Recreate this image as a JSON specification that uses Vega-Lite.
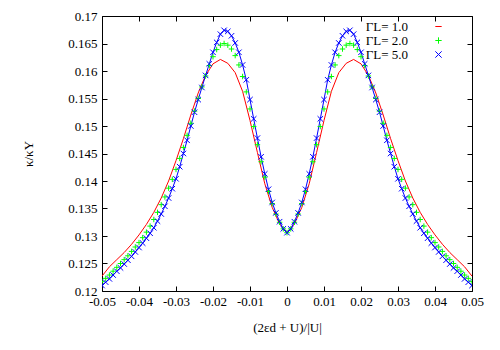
{
  "$schema": "https://vega.github.io/schema/vega-lite/v6.json",
  "width": 370,
  "height": 275,
  "autosize": {"type": "none"},
  "padding": {"left": 102, "top": 16, "right": 28, "bottom": 59},
  "background": "white",
  "config": {
    "view": {"stroke": "black", "strokeWidth": 1},
    "font": "Liberation Serif",
    "axis": {
      "grid": false,
      "domain": false,
      "tickColor": "black",
      "tickSize": -5,
      "tickWidth": 1,
      "labelFont": "Liberation Serif",
      "labelFontSize": 13,
      "labelColor": "black",
      "titleFont": "Liberation Serif",
      "titleFontSize": 13,
      "titleFontWeight": "normal",
      "titleColor": "black"
    },
    "legend": {
      "orient": "none",
      "legendX": 330,
      "legendY": 4,
      "padding": 0,
      "title": null,
      "labelFont": "Liberation Serif",
      "labelFontSize": 13,
      "labelColor": "black",
      "labelAlign": "right",
      "labelOffset": -37,
      "symbolSize": 40,
      "symbolStrokeWidth": 1,
      "rowPadding": -2
    }
  },
  "resolve": {"scale": {"x": "shared", "y": "shared"}, "axis": {"x": "independent", "y": "independent"}},
  "datasets": {
    "red": [
      {"x": -0.05, "y": 0.1227}, {"x": -0.048, "y": 0.1244}, {"x": -0.046, "y": 0.1257}, {"x": -0.044, "y": 0.127}, {"x": -0.042, "y": 0.1285}, {"x": -0.04, "y": 0.1302}, {"x": -0.038, "y": 0.1321}, {"x": -0.036, "y": 0.1343}, {"x": -0.034, "y": 0.1369}, {"x": -0.032, "y": 0.14}, {"x": -0.03, "y": 0.1437}, {"x": -0.028, "y": 0.1477}, {"x": -0.026, "y": 0.152}, {"x": -0.024, "y": 0.156}, {"x": -0.022, "y": 0.1592}, {"x": -0.02, "y": 0.1613}, {"x": -0.018, "y": 0.1621}, {"x": -0.016, "y": 0.1614}, {"x": -0.014, "y": 0.1597}, {"x": -0.012, "y": 0.1563}, {"x": -0.01, "y": 0.151}, {"x": -0.008, "y": 0.1452}, {"x": -0.006, "y": 0.1395}, {"x": -0.004, "y": 0.1352}, {"x": -0.002, "y": 0.1322},
      {"x": 0, "y": 0.1306},
      {"x": 0.002, "y": 0.1322}, {"x": 0.004, "y": 0.1352}, {"x": 0.006, "y": 0.1395}, {"x": 0.008, "y": 0.1452}, {"x": 0.01, "y": 0.151}, {"x": 0.012, "y": 0.1563}, {"x": 0.014, "y": 0.1597}, {"x": 0.016, "y": 0.1614}, {"x": 0.018, "y": 0.1621}, {"x": 0.02, "y": 0.1613}, {"x": 0.022, "y": 0.1592}, {"x": 0.024, "y": 0.156}, {"x": 0.026, "y": 0.152}, {"x": 0.028, "y": 0.1477}, {"x": 0.03, "y": 0.1437}, {"x": 0.032, "y": 0.14}, {"x": 0.034, "y": 0.1369}, {"x": 0.036, "y": 0.1343}, {"x": 0.038, "y": 0.1321}, {"x": 0.04, "y": 0.1302}, {"x": 0.042, "y": 0.1285}, {"x": 0.044, "y": 0.127}, {"x": 0.046, "y": 0.1257}, {"x": 0.048, "y": 0.1244}, {"x": 0.05, "y": 0.1227}
    ],
    "green": [
      {"x": -0.05, "y": 0.1217}, {"x": -0.049, "y": 0.1223}, {"x": -0.048, "y": 0.1229}, {"x": -0.047, "y": 0.1236}, {"x": -0.046, "y": 0.1243}, {"x": -0.045, "y": 0.125}, {"x": -0.044, "y": 0.1257}, {"x": -0.043, "y": 0.1264}, {"x": -0.042, "y": 0.1272}, {"x": -0.041, "y": 0.128}, {"x": -0.04, "y": 0.1288}, {"x": -0.039, "y": 0.1297}, {"x": -0.038, "y": 0.1307}, {"x": -0.037, "y": 0.1318}, {"x": -0.036, "y": 0.133}, {"x": -0.035, "y": 0.1343}, {"x": -0.034, "y": 0.1357}, {"x": -0.033, "y": 0.1371}, {"x": -0.032, "y": 0.1387}, {"x": -0.031, "y": 0.1403}, {"x": -0.03, "y": 0.1421}, {"x": -0.029, "y": 0.1441}, {"x": -0.028, "y": 0.1461}, {"x": -0.027, "y": 0.1483}, {"x": -0.026, "y": 0.1505}, {"x": -0.025, "y": 0.1527}, {"x": -0.024, "y": 0.155}, {"x": -0.023, "y": 0.1571}, {"x": -0.022, "y": 0.1591}, {"x": -0.021, "y": 0.161}, {"x": -0.02, "y": 0.1626}, {"x": -0.019, "y": 0.1639}, {"x": -0.018, "y": 0.1647}, {"x": -0.017, "y": 0.165}, {"x": -0.016, "y": 0.1647}, {"x": -0.015, "y": 0.164}, {"x": -0.014, "y": 0.1628}, {"x": -0.013, "y": 0.1611}, {"x": -0.012, "y": 0.159}, {"x": -0.011, "y": 0.1562}, {"x": -0.01, "y": 0.1531}, {"x": -0.009, "y": 0.1499}, {"x": -0.008, "y": 0.1466}, {"x": -0.007, "y": 0.1435}, {"x": -0.006, "y": 0.1407}, {"x": -0.005, "y": 0.1381}, {"x": -0.004, "y": 0.1359}, {"x": -0.003, "y": 0.134}, {"x": -0.002, "y": 0.1325}, {"x": -0.001, "y": 0.1313},
      {"x": 0, "y": 0.1306},
      {"x": 0.001, "y": 0.1313}, {"x": 0.002, "y": 0.1325}, {"x": 0.003, "y": 0.134}, {"x": 0.004, "y": 0.1359}, {"x": 0.005, "y": 0.1381}, {"x": 0.006, "y": 0.1407}, {"x": 0.007, "y": 0.1435}, {"x": 0.008, "y": 0.1466}, {"x": 0.009, "y": 0.1499}, {"x": 0.01, "y": 0.1531}, {"x": 0.011, "y": 0.1562}, {"x": 0.012, "y": 0.159}, {"x": 0.013, "y": 0.1611}, {"x": 0.014, "y": 0.1628}, {"x": 0.015, "y": 0.164}, {"x": 0.016, "y": 0.1647}, {"x": 0.017, "y": 0.165}, {"x": 0.018, "y": 0.1647}, {"x": 0.019, "y": 0.1639}, {"x": 0.02, "y": 0.1626}, {"x": 0.021, "y": 0.161}, {"x": 0.022, "y": 0.1591}, {"x": 0.023, "y": 0.1571}, {"x": 0.024, "y": 0.155}, {"x": 0.025, "y": 0.1527}, {"x": 0.026, "y": 0.1505}, {"x": 0.027, "y": 0.1483}, {"x": 0.028, "y": 0.1461}, {"x": 0.029, "y": 0.1441}, {"x": 0.03, "y": 0.1421}, {"x": 0.031, "y": 0.1403}, {"x": 0.032, "y": 0.1387}, {"x": 0.033, "y": 0.1371}, {"x": 0.034, "y": 0.1357}, {"x": 0.035, "y": 0.1343}, {"x": 0.036, "y": 0.133}, {"x": 0.037, "y": 0.1318}, {"x": 0.038, "y": 0.1307}, {"x": 0.039, "y": 0.1297}, {"x": 0.04, "y": 0.1288}, {"x": 0.041, "y": 0.128}, {"x": 0.042, "y": 0.1272}, {"x": 0.043, "y": 0.1264}, {"x": 0.044, "y": 0.1257}, {"x": 0.045, "y": 0.125}, {"x": 0.046, "y": 0.1243}, {"x": 0.047, "y": 0.1236}, {"x": 0.048, "y": 0.1229}, {"x": 0.049, "y": 0.1223}, {"x": 0.05, "y": 0.1217}
    ],
    "blue": [
      {"x": -0.05, "y": 0.121}, {"x": -0.049, "y": 0.1216}, {"x": -0.048, "y": 0.1222}, {"x": -0.047, "y": 0.1229}, {"x": -0.046, "y": 0.1236}, {"x": -0.045, "y": 0.1242}, {"x": -0.044, "y": 0.1249}, {"x": -0.043, "y": 0.1256}, {"x": -0.042, "y": 0.1263}, {"x": -0.041, "y": 0.1271}, {"x": -0.04, "y": 0.1279}, {"x": -0.039, "y": 0.1287}, {"x": -0.038, "y": 0.1296}, {"x": -0.037, "y": 0.1305}, {"x": -0.036, "y": 0.1315}, {"x": -0.035, "y": 0.1327}, {"x": -0.034, "y": 0.134}, {"x": -0.033, "y": 0.1354}, {"x": -0.032, "y": 0.1369}, {"x": -0.031, "y": 0.1386}, {"x": -0.03, "y": 0.1404}, {"x": -0.029, "y": 0.1426}, {"x": -0.028, "y": 0.145}, {"x": -0.027, "y": 0.1474}, {"x": -0.026, "y": 0.15}, {"x": -0.025, "y": 0.1525}, {"x": -0.024, "y": 0.1548}, {"x": -0.023, "y": 0.157}, {"x": -0.022, "y": 0.1592}, {"x": -0.021, "y": 0.1613}, {"x": -0.02, "y": 0.1634}, {"x": -0.019, "y": 0.1652}, {"x": -0.018, "y": 0.1667}, {"x": -0.017, "y": 0.1674}, {"x": -0.016, "y": 0.1672}, {"x": -0.015, "y": 0.1664}, {"x": -0.014, "y": 0.1651}, {"x": -0.013, "y": 0.1634}, {"x": -0.012, "y": 0.1611}, {"x": -0.011, "y": 0.1584}, {"x": -0.01, "y": 0.1548}, {"x": -0.009, "y": 0.1513}, {"x": -0.008, "y": 0.1478}, {"x": -0.007, "y": 0.1444}, {"x": -0.006, "y": 0.1413}, {"x": -0.005, "y": 0.1385}, {"x": -0.004, "y": 0.1361}, {"x": -0.003, "y": 0.1342}, {"x": -0.002, "y": 0.1326}, {"x": -0.001, "y": 0.1313},
      {"x": 0, "y": 0.1306},
      {"x": 0.001, "y": 0.1313}, {"x": 0.002, "y": 0.1326}, {"x": 0.003, "y": 0.1342}, {"x": 0.004, "y": 0.1361}, {"x": 0.005, "y": 0.1385}, {"x": 0.006, "y": 0.1413}, {"x": 0.007, "y": 0.1444}, {"x": 0.008, "y": 0.1478}, {"x": 0.009, "y": 0.1513}, {"x": 0.01, "y": 0.1548}, {"x": 0.011, "y": 0.1584}, {"x": 0.012, "y": 0.1611}, {"x": 0.013, "y": 0.1634}, {"x": 0.014, "y": 0.1651}, {"x": 0.015, "y": 0.1664}, {"x": 0.016, "y": 0.1672}, {"x": 0.017, "y": 0.1674}, {"x": 0.018, "y": 0.1667}, {"x": 0.019, "y": 0.1652}, {"x": 0.02, "y": 0.1634}, {"x": 0.021, "y": 0.1613}, {"x": 0.022, "y": 0.1592}, {"x": 0.023, "y": 0.157}, {"x": 0.024, "y": 0.1548}, {"x": 0.025, "y": 0.1525}, {"x": 0.026, "y": 0.15}, {"x": 0.027, "y": 0.1474}, {"x": 0.028, "y": 0.145}, {"x": 0.029, "y": 0.1426}, {"x": 0.03, "y": 0.1404}, {"x": 0.031, "y": 0.1386}, {"x": 0.032, "y": 0.1369}, {"x": 0.033, "y": 0.1354}, {"x": 0.034, "y": 0.134}, {"x": 0.035, "y": 0.1327}, {"x": 0.036, "y": 0.1315}, {"x": 0.037, "y": 0.1305}, {"x": 0.038, "y": 0.1296}, {"x": 0.039, "y": 0.1287}, {"x": 0.04, "y": 0.1279}, {"x": 0.041, "y": 0.1271}, {"x": 0.042, "y": 0.1263}, {"x": 0.043, "y": 0.1256}, {"x": 0.044, "y": 0.1249}, {"x": 0.045, "y": 0.1242}, {"x": 0.046, "y": 0.1236}, {"x": 0.047, "y": 0.1229}, {"x": 0.048, "y": 0.1222}, {"x": 0.049, "y": 0.1216}, {"x": 0.05, "y": 0.121}
    ]
  },
  "layer": [
    {
      "data": {"name": "red"},
      "mark": {"type": "line", "strokeWidth": 1, "clip": true},
      "encoding": {
        "x": {"field": "x", "type": "quantitative",
          "scale": {"domain": [-0.05, 0.05], "nice": false, "zero": false},
          "axis": {"orient": "bottom", "title": "(2εd + U)/|U|", "values": [-0.05, -0.04, -0.03, -0.02, -0.01, 0, 0.01, 0.02, 0.03, 0.04, 0.05],
            "labelExpr": "replace(format(datum.value, '.2~f'), '−', '-')", "labelPadding": 9, "titlePadding": 13, "labelFlush": false}},
        "y": {"field": "y", "type": "quantitative",
          "scale": {"domain": [0.12, 0.17], "nice": false, "zero": false},
          "axis": {"orient": "left", "title": "κ/κY", "values": [0.12, 0.125, 0.13, 0.135, 0.14, 0.145, 0.15, 0.155, 0.16, 0.165, 0.17],
            "labelExpr": "replace(format(datum.value, '.3~f'), '−', '-')", "labelPadding": 10, "titlePadding": 32}},
        "color": {"datum": "ΓL= 1.0", "type": "nominal",
          "scale": {"domain": ["ΓL= 1.0", "ΓL= 2.0", "ΓL= 5.0"], "range": ["#ff0000", "#00ff00", "#0000ff"]}}
      }
    },
    {
      "data": {"name": "blue"},
      "mark": {"type": "line", "strokeWidth": 1, "clip": true},
      "encoding": {
        "x": {"field": "x", "type": "quantitative", "axis": null},
        "y": {"field": "y", "type": "quantitative", "axis": null},
        "color": {"datum": "ΓL= 5.0", "type": "nominal"}
      }
    },
    {
      "data": {"name": "green"},
      "mark": {"type": "point", "filled": false, "strokeWidth": 1, "size": 30, "opacity": 1, "clip": true},
      "encoding": {
        "x": {"field": "x", "type": "quantitative",
          "axis": {"orient": "top", "labels": false, "title": null, "values": [-0.05, -0.04, -0.03, -0.02, -0.01, 0, 0.01, 0.02, 0.03, 0.04, 0.05]}},
        "y": {"field": "y", "type": "quantitative",
          "axis": {"orient": "right", "labels": false, "title": null, "values": [0.12, 0.125, 0.13, 0.135, 0.14, 0.145, 0.15, 0.155, 0.16, 0.165, 0.17]}},
        "color": {"datum": "ΓL= 2.0", "type": "nominal"},
        "shape": {"datum": "ΓL= 2.0", "type": "nominal",
          "scale": {"domain": ["ΓL= 1.0", "ΓL= 2.0", "ΓL= 5.0"], "range": ["stroke", "M-1,0L1,0M0,-1L0,1", "M-1,-1L1,1M-1,1L1,-1"]}}
      }
    },
    {
      "data": {"name": "blue"},
      "mark": {"type": "point", "filled": false, "strokeWidth": 1, "size": 30, "opacity": 1, "clip": true},
      "encoding": {
        "x": {"field": "x", "type": "quantitative", "axis": null},
        "y": {"field": "y", "type": "quantitative", "axis": null},
        "color": {"datum": "ΓL= 5.0", "type": "nominal"},
        "shape": {"datum": "ΓL= 5.0", "type": "nominal"}
      }
    }
  ]
}
